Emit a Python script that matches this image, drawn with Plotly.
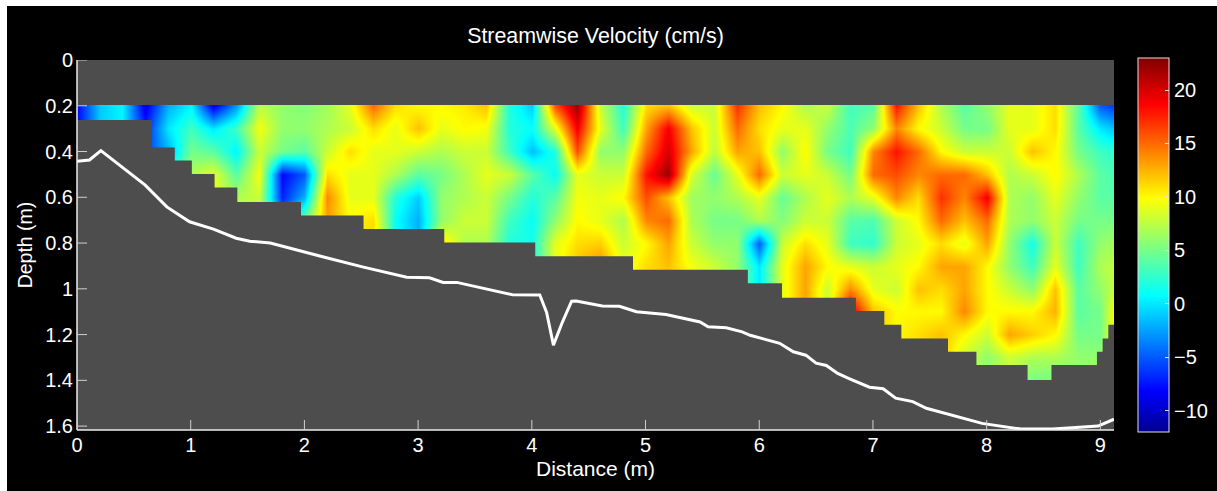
import plotly.graph_objects as go

title = "Streamwise Velocity (cm/s)"
x_label = "Distance (m)"
y_label = "Depth (m)"
x_ticks = [0, 1, 2, 3, 4, 5, 6, 7, 8, 9]
y_ticks = [0, 0.2, 0.4, 0.6, 0.8, 1, 1.2, 1.4, 1.6]
cbar_ticks = [-10, -5, 0, 5, 10, 15, 20]

# Grid of the velocity field
distance = [round(0.2 * i, 1) for i in range(47)]
depth = [0.2, 0.3, 0.4, 0.5, 0.6, 0.7, 0.8, 0.9, 1.0, 1.1, 1.2, 1.3, 1.4]

row_02 = [-8,-1,0.5,-9,-2,0.5,-9,-3,7.5,6,5.5,6.5,9,15,11,10, 10,10.5,12,2,-1,16,22,8,2,11,12,8,8,17,12, 10,7,8,3,4,18,12,7,4,6,9,9,11,4,-5,-7]
row_03 = [-8,-1,0.5,-7,0,3,0,3,9.5,6,6,7,8,11,9,12, 9,10,9.5,2,1,9,19,9,3,13,19,12,8,15,11, 9,9,6,3.5,6,14,10,8,5,5,9,9,11,4,0,-2]
row_04 = [-6,-6,-6,-6,-2,5,4,0.5,8,5,4,8,11,9,9,8, 7,8,8,3,-1.5,2,16,6,6,15,20,13,7.5,13,12, 6,10,5,3,14,18,15,10,8,8,8,12,10,5,3,2]
row_05 = [-6,-6,-6,-6,2,7,9,4,9.5,-8,-5,11,9,9,7,4, 5,7,9,8,4,1,9,8,8,18,22,8.5,4.5,9,15, 8,9,8,5,15,16,14,15,15,12,7,8,10,7,4,3]
row_06 = [4,4,4,4,5,7,9,7,8,-7,-2,14,9,9,2,-1, 6,7,8,5,2,4,9.5,9,10,16,12,6.5,6,7,9, 4.5,7,9,7,9,14,11,17,14,19,7,6,9,6,4,4]
row_07 = [4,4,4,4,5,7,9,7,8,-3,5,13,10,11,1,-2, 6,8,8,3,1,6,10,9,7,14,15,7,5,5,7, 5.5,8,8,4,3.5,8,10,15,12,15,7,6,8,5,5,5]
row_08 = [4,4,4,4,5,7,9,7,8,-3,5,13,11,11,2,-2, 11,7,7,2,1.5,9,11,11.5,8,10,13,8,6,6,-5, 8,11,9,3,2.5,8,9,11,9,13,6,1.5,8,3,6,7]
row_09 = [4,4,4,4,5,7,9,7,8,-3,5,13,11,11,2,-2, 11,7,7,2,1.5,9,12,14,9,11,12,9.5,8,6,0, 9,13,10,9,8,9,10,13,13,10,6,3,9,3,7,8]
row_10 = [4,4,4,4,5,7,9,7,8,-3,5,13,11,11,2,-2, 11,7,7,2,1.5,9,12,14,9,11,12,9.5,8,6,0, 9,13,8,14,9,8,12,11,13,10,8,6,12,4,6,9]
row_11 = [4,4,4,4,5,7,9,7,8,-3,5,13,11,11,2,-2, 11,7,7,2,1.5,9,12,14,9,11,12,9.5,8,6,0, 9,13,8,20,12,10,10,10,14,10,10,10,12.5,4,5,13]
row_12 = [4,4,4,4,5,7,9,7,8,-3,5,13,11,11,2,-2, 11,7,7,2,1.5,9,12,14,9,11,12,9.5,8,6,0, 9,13,8,20,12,10,11,12,10,8,13,11.5,10,5,5,13]
row_13 = [4,4,4,4,5,7,9,7,8,-3,5,13,11,11,2,-2, 11,7,7,2,1.5,9,12,14,9,11,12,9.5,8,6,0, 9,13,8,20,12,10,11,12,8,6,8,7,7,6,6,13]
row_14 = [4,4,4,4,5,7,9,7,8,-3,5,13,11,11,2,-2, 11,7,7,2,1.5,9,12,14,9,11,12,9.5,8,6,0, 9,13,8,20,12,10,11,12,8,6,8,5,5,6,6,13]
velocity = [row_02, row_03, row_04, row_05, row_06, row_07, row_08, row_09, row_10, row_11, row_12, row_13, row_14]

# Stepped lower limit of the measured field: right end of each step, depth of the step
step_end = [0.66, 0.86, 1.01, 1.21, 1.41, 1.97, 2.52, 3.23, 4.03, 4.89, 5.90, 6.20, 6.85, 7.10, 7.25, 7.66, 7.91, 8.36, 8.57, 8.97, 9.02, 9.07, 9.12]
step_depth = [0.262, 0.382, 0.439, 0.498, 0.557, 0.621, 0.68, 0.739, 0.798, 0.858, 0.917, 0.976, 1.039, 1.097, 1.157, 1.217, 1.275, 1.333, 1.399, 1.333, 1.275, 1.217, 1.157]

# Bed profile
bed_x = [0, 0.11, 0.21, 0.35, 0.6, 0.79, 0.99, 1.2, 1.4, 1.52, 1.7, 2.16, 2.51, 2.9, 3.1, 3.22, 3.34, 3.83, 4.07, 4.13, 4.19, 4.27, 4.35, 4.39, 4.62, 4.77, 4.92, 5.18, 5.48, 5.55, 5.71, 5.85, 5.92, 6.18, 6.30, 6.41, 6.5, 6.59, 6.69, 6.79, 6.97, 7.09, 7.2, 7.35, 7.47, 7.96, 8.3, 8.58, 8.82, 8.98, 9.12]
bed_depth = [0.442, 0.437, 0.396, 0.45, 0.547, 0.642, 0.707, 0.739, 0.779, 0.792, 0.8, 0.86, 0.904, 0.949, 0.952, 0.972, 0.972, 1.026, 1.027, 1.103, 1.246, 1.144, 1.054, 1.053, 1.075, 1.076, 1.1, 1.112, 1.145, 1.166, 1.17, 1.188, 1.203, 1.238, 1.275, 1.29, 1.325, 1.335, 1.37, 1.392, 1.43, 1.437, 1.478, 1.493, 1.522, 1.588, 1.613, 1.613, 1.606, 1.6, 1.57]

top_limit = 0.197
x_end = 9.12
y_end = 1.617

jet = [[0.0, "rgb(0,0,143)"], [0.11, "rgb(0,0,255)"], [0.365, "rgb(0,255,255)"],
       [0.625, "rgb(255,255,0)"], [0.875, "rgb(255,0,0)"], [1.0, "rgb(128,0,0)"]]

mask_x = [0, x_end, x_end, 0, 0, None, 0]
mask_y = [0, 0, top_limit, top_limit, 0, None, step_depth[0]]
left = 0
for end, d in zip(step_end, step_depth):
    mask_x += [left, end]
    mask_y += [d, d]
    left = end
mask_x += [x_end, 0, 0]
mask_y += [y_end, y_end, step_depth[0]]

W, H = 1217, 491
L, R, T, B = 77, 1114, 60, 430
PW, PH = R - L, B - T

fig = go.Figure()
fig.add_trace(go.Heatmap(
    x=distance, y=depth, z=velocity, zmin=-12, zmax=23, zsmooth="best",
    colorscale=jet, hoverinfo="skip",
    colorbar=dict(
        x=1138 / W, xanchor="left", xref="container", xpad=0,
        y=0.5, yanchor="middle", yref="paper", ypad=0,
        thickness=31, thicknessmode="pixels", len=374, lenmode="pixels",
        tickvals=cbar_ticks, ticks="inside", ticklen=4, tickcolor="#dddddd", tickwidth=1,
        tickfont=dict(color="white", size=20, family="Liberation Sans"),
        outlinecolor="#e0e0e0", outlinewidth=1, borderwidth=0,
    ),
))
fig.add_trace(go.Scatter(x=mask_x, y=mask_y, mode="lines", fill="toself",
                         fillcolor="#4d4d4d", line=dict(width=0, color="#4d4d4d"),
                         hoverinfo="skip", showlegend=False))
fig.add_trace(go.Scatter(x=bed_x, y=bed_depth, mode="lines",
                         line=dict(color="white", width=3),
                         hoverinfo="skip", showlegend=False))

axis_common = dict(showgrid=False, zeroline=False, showline=False, ticks="",
                   tickfont=dict(color="white", size=20, family="Liberation Sans"))
fig.update_xaxes(range=[0, x_end], tickvals=x_ticks, ticktext=[str(v) for v in x_ticks],
                 ticklabelstandoff=1,
                 title=dict(text=x_label, font=dict(color="white", size=21, family="Liberation Sans"), standoff=6),
                 **axis_common)
fig.update_yaxes(range=[y_end, 0], tickvals=y_ticks, ticktext=[str(v) for v in y_ticks],
                 ticklabelstandoff=3,
                 title=dict(text=y_label, font=dict(color="white", size=19.5, family="Liberation Sans"), standoff=7),
                 **axis_common)

# Frame, axis lines and inside tick marks
frame = [
    dict(type="rect", xref="paper", yref="paper", layer="below",
         x0=(7 - L) / PW, x1=(W + 5 - L) / PW, y0=(B - H - 5) / PH, y1=(B - 6) / PH,
         fillcolor="black", line=dict(width=0)),
    dict(type="line", xref="paper", yref="paper", layer="above", x0=0, x1=1, y0=0, y1=0,
         line=dict(color="#ececec", width=1.5)),
    dict(type="line", xref="paper", yref="paper", layer="above", x0=0, x1=0, y0=0, y1=1,
         line=dict(color="#ececec", width=1.5)),
]
for v in x_ticks:
    frame.append(dict(type="line", xref="x", yref="paper", layer="above", x0=v, x1=v, y0=0, y1=10 / PH,
                      line=dict(color="#d0d0d0", width=1)))
for v in y_ticks:
    frame.append(dict(type="line", xref="paper", yref="y", layer="above", x0=0, x1=10 / PW, y0=v, y1=v,
                      line=dict(color="#d0d0d0", width=1)))

fig.update_layout(
    width=W, height=H, autosize=False,
    margin=dict(l=L, r=W - R, t=T, b=H - B, pad=0, autoexpand=False),
    paper_bgcolor="white", plot_bgcolor="#4d4d4d", showlegend=False,
    title=dict(text=title, x=0.5, xref="paper", xanchor="center", y=1 - 36 / H, yanchor="middle",
               font=dict(color="white", size=21.4, family="Liberation Sans")),
    shapes=frame,
)
fig.write_html("out.html", config={"displayModeBar": False}, post_script="document.body.style.margin='0';")
